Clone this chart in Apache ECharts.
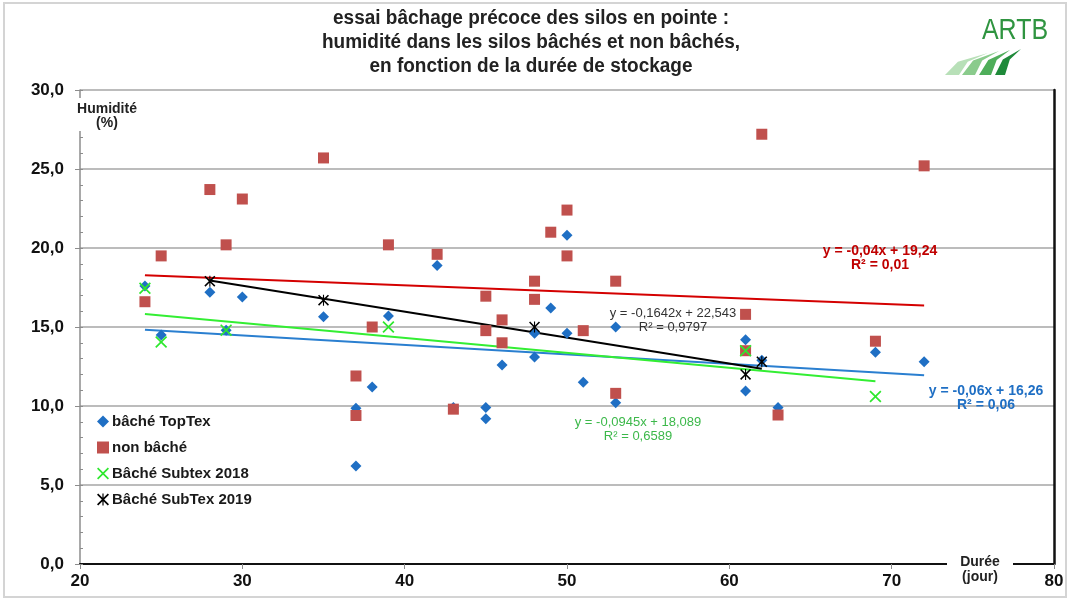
<!DOCTYPE html>
<html><head><meta charset="utf-8">
<script src="https://cdn.jsdelivr.net/npm/echarts@6/dist/echarts.min.js"></script>
<style>html,body{margin:0;padding:0;background:#fff}#c{width:1070px;height:600px}</style>
</head><body><div id="c"></div>
<script>
// ---- Data ----
const titleLines = [
  'essai bâchage précoce des silos en pointe :',
  'humidité dans les silos bâchés et non bâchés,',
  'en fonction de la durée de stockage'
];
const seriesNames = ['bâché TopTex', 'non bâché', 'Bâché Subtex 2018', 'Bâché SubTex 2019'];
const bacheTopTex = [[24,17.6],[25,14.5],[28,17.2],[29,14.8],[30,16.9],[35,15.65],[37,9.85],[37,6.2],[38,11.2],[39,15.7],[42,18.9],[43,9.9],[45,9.9],[45,9.2],[46,12.6],[48,14.6],[48,13.1],[49,16.2],[50,20.8],[50,14.6],[51,11.5],[53,15.0],[53,10.2],[61,14.2],[61,10.95],[62,12.9],[63,9.9],[69,13.4],[72,12.8]];
const nonBache = [[24,16.6],[25,19.5],[28,23.7],[29,20.2],[30,23.1],[35,25.7],[37,11.9],[37,9.4],[38,15.0],[39,20.2],[42,19.6],[43,9.8],[45,16.95],[45,14.77],[46,15.45],[46,14.0],[48,17.9],[48,16.75],[49,21.0],[50,22.4],[50,19.5],[51,14.77],[53,17.9],[53,10.8],[61,15.8],[61,13.5],[62,27.2],[63,9.43],[69,14.1],[72,25.2]];
const subtex2018 = [[24,17.45],[25,14.05],[29,14.8],[39,15.0],[61,13.5],[69,10.6]];
const subtex2019 = [[28,17.9],[35,16.7],[48,15.0],[61,12.0],[62,12.8]];
// trend line end points (as drawn in the reference)
const trendTopTex = [[24,14.82],[72,11.94]];
const trendNonBache = [[24,18.28],[72,16.36]];
const trend2018 = [[24,15.82],[69,11.57]];
const trend2019 = [[28,17.95],[62,12.36]];
const trendLabels = {
  nonBache: ['y = -0,04x + 19,24', 'R² = 0,01'],
  topTex: ['y = -0,06x + 16,26', 'R² = 0,06'],
  s2018: ['y = -0,0945x + 18,089', 'R² = 0,6589'],
  s2019: ['y = -0,1642x + 22,543', 'R² = 0,9797']
};
const xTickLabels = ['20','30','40','50','60','70','80'];
const yTickLabels = ['0,0','5,0','10,0','15,0','20,0','25,0','30,0'];
const yAxisTitle = ['Humidité', '(%)'];
const xAxisTitle = ['Durée', '(jour)'];
const logoText = 'ARTB';

// ---- Styles ----
const FF = '"Liberation Sans", Arial, sans-serif';
const C_BLUE = '#1f6fc4', C_RED = '#c0504d', C_GREEN = '#2ee82e', C_BLACK = '#000000';
const X_PATH = 'path://M0,2L2,0L10,8L18,0L20,2L12,10L20,18L18,20L10,12L2,20L0,18L8,10Z';
const STAR_PATH = 'path://M0,2L2,0L10,8L18,0L20,2L12,10L20,18L18,20L10,12L2,20L0,18L8,10Z M9,0L11,0L11,20L9,20Z';

const chart = echarts.init(document.getElementById('c'), null, {renderer: 'canvas'});

function txt(x, y, text, font, fill, extra) {
  return Object.assign({type: 'text', x: x, y: y, z: 100,
    style: {text: text, font: font, fill: fill, align: 'center', verticalAlign: 'middle'}}, extra || {});
}
function stripe(bl, br, tip, color) {
  const lm = [bl[0] + 0.3 * (tip[0] - bl[0]), bl[1] + 0.6 * (tip[1] - bl[1])];
  const rm = [br[0] + 0.3 * (tip[0] - br[0]), br[1] + 0.6 * (tip[1] - br[1])];
  return {type: 'polygon', z: 100, shape: {points: [bl, lm, tip, rm, br]}, style: {fill: color}};
}

const graphics = [
  {type: 'rect', z: 0, shape: {x: 4, y: 3, width: 1062, height: 594}, style: {fill: 'none', stroke: '#d4d4d4', lineWidth: 2}},
  txt(531, 20, titleLines[0], 'bold 19px ' + FF, '#222', {scaleY: 1.08, originY: 20}),
  txt(531, 46, titleLines[1], 'bold 19px ' + FF, '#222', {scaleY: 1.08, originY: 46}),
  txt(531, 72, titleLines[2], 'bold 19px ' + FF, '#222', {scaleY: 1.08, originY: 72}),
  txt(1015, 38, logoText, '25px ' + FF, '#2f9440', {scaleY: 1.2, originY: 38}),
  stripe([945, 75], [959, 75], [988, 53], '#b8e0b8'),
  stripe([962, 75], [975, 75], [999, 51], '#8acb8c'),
  stripe([979, 75], [991, 75], [1010, 50], '#4fae5a'),
  stripe([995, 75], [1005, 75], [1021, 49], '#1f8a3a'),
  // axis titles with white background
  {type: 'rect', z: 90, shape: {x: 72, y: 98, width: 72, height: 33}, style: {fill: '#fff'}},
  txt(107, 109, yAxisTitle[0], 'bold 14px ' + FF, '#222'),
  txt(107, 123, yAxisTitle[1], 'bold 14px ' + FF, '#222'),
  {type: 'rect', z: 90, shape: {x: 947, y: 556, width: 66, height: 14}, style: {fill: '#fff'}},
  txt(980, 562, xAxisTitle[0], 'bold 14px ' + FF, '#222'),
  txt(980, 577, xAxisTitle[1], 'bold 14px ' + FF, '#222'),
  // trend equations
  txt(880, 251, trendLabels.nonBache[0], 'bold 14px ' + FF, '#c00000'),
  txt(880, 265, trendLabels.nonBache[1], 'bold 14px ' + FF, '#c00000'),
  txt(986, 391, trendLabels.topTex[0], 'bold 14px ' + FF, '#1f6fc4'),
  txt(986, 405, trendLabels.topTex[1], 'bold 14px ' + FF, '#1f6fc4'),
  txt(638, 422, trendLabels.s2018[0], '13px ' + FF, '#3cb84a'),
  txt(638, 436, trendLabels.s2018[1], '13px ' + FF, '#3cb84a'),
  txt(673, 313, trendLabels.s2019[0], '13px ' + FF, '#333'),
  txt(673, 327, trendLabels.s2019[1], '13px ' + FF, '#333')
];

function trend(name, data, color) {
  return {name: name, type: 'line', data: data, showSymbol: false, symbol: 'none', silent: true, z: 1,
    lineStyle: {color: color, width: 2}, xAxisIndex: 0, yAxisIndex: 0};
}
function scatter(name, data, symbol, size, color, z) {
  return {name: name, type: 'scatter', data: data, symbol: symbol, symbolSize: size, z: z,
    itemStyle: {color: color, opacity: 1}, xAxisIndex: 0, yAxisIndex: 0};
}

const option = {
  animation: false,
  backgroundColor: '#fff',
  grid: {left: 80, right: 16, top: 90, bottom: 36, containLabel: false},
  legend: {
    orient: 'vertical', left: 92, top: 409, itemGap: 11, itemWidth: 12, itemHeight: 12,
    textStyle: {fontFamily: FF, fontWeight: 'bold', fontSize: 15, color: '#1a1a1a', padding: [0, 0, 0, -2]},
    data: [
      {name: seriesNames[0], icon: 'diamond'},
      {name: seriesNames[1], icon: 'rect'},
      {name: seriesNames[2], icon: X_PATH},
      {name: seriesNames[3], icon: STAR_PATH}
    ]
  },
  xAxis: [{
    type: 'value', min: 20, max: 80, interval: 10, position: 'bottom',
    axisLine: {show: true, lineStyle: {color: '#8c8c8c', width: 1.5}},
    axisTick: {show: true, length: 5, lineStyle: {color: '#8c8c8c'}},
    axisLabel: {margin: 9, fontFamily: FF, fontWeight: 'bold', fontSize: 17, color: '#111',
      formatter: (v) => xTickLabels[Math.round((v - 20) / 10)]},
    splitLine: {show: false}
  }, {
    type: 'value', min: 20, max: 80, interval: 10, position: 'top',
    axisLine: {show: true, lineStyle: {color: '#111', width: 2}},
    axisTick: {show: false}, axisLabel: {show: false}, splitLine: {show: false}
  }],
  yAxis: [{
    type: 'value', min: 0, max: 30, interval: 5, position: 'left',
    axisLine: {show: true, lineStyle: {color: '#8c8c8c', width: 1.5}},
    axisTick: {show: true, length: 5, lineStyle: {color: '#8c8c8c'}},
    axisLabel: {margin: 16, fontFamily: FF, fontWeight: 'bold', fontSize: 17, color: '#111',
      formatter: (v) => yTickLabels[Math.round(v / 5)]},
    splitLine: {show: true, lineStyle: {color: '#a6a6a6', width: 1.5}}
  }, {
    type: 'value', min: 0, max: 30, interval: 5, position: 'right',
    axisLine: {show: true, lineStyle: {color: '#111', width: 2.5}},
    axisTick: {show: false}, axisLabel: {show: false}, splitLine: {show: false}
  }, {
    type: 'value', min: 0, max: 30, interval: 1, position: 'left',
    axisLine: {show: false},
    axisTick: {show: true, inside: true, length: 3, lineStyle: {color: '#8c8c8c'}},
    axisLabel: {show: false}, splitLine: {show: false}
  }],
  graphic: graphics,
  series: [
    trend('t1', trendNonBache, '#d40000'),
    trend('t2', trendTopTex, '#2a7fd0'),
    trend('t3', trend2018, '#33ee33'),
    trend('t4', trend2019, '#000'),
    scatter(seriesNames[0], bacheTopTex, 'diamond', 11, C_BLUE, 3),
    scatter(seriesNames[1], nonBache, 'rect', 11, C_RED, 4),
    scatter(seriesNames[2], subtex2018, X_PATH, 12, C_GREEN, 5),
    scatter(seriesNames[3], subtex2019, STAR_PATH, 11, C_BLACK, 6)
  ]
};
chart.setOption(option);
</script></body></html>
